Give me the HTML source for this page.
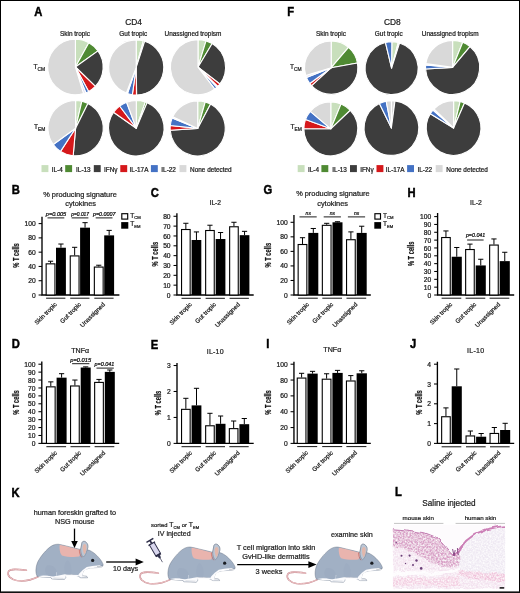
<!DOCTYPE html>
<html lang="en"><head><meta charset="utf-8"><title>Figure</title>
<style>html,body{margin:0;padding:0;background:#fff}body{width:520px;height:593px;overflow:hidden}svg{display:block;will-change:transform}text{stroke:#222;stroke-width:0.22px;font-family:'Liberation Sans', Arial, Helvetica, sans-serif}</style>
</head><body>
<svg width="520" height="593" viewBox="0 0 520 593">
<rect x="0" y="0" width="520" height="593" fill="#fff"/>
<text transform="translate(34.30,16.30) scale(0.92,1)" font-size="12.2" font-weight="bold" fill="#000" style="stroke:#000;stroke-width:0.45px">A</text>
<text transform="translate(287.30,16.30) scale(0.92,1)" font-size="12.2" font-weight="bold" fill="#000" style="stroke:#000;stroke-width:0.45px">F</text>
<text transform="translate(11.80,194.20) scale(0.92,1)" font-size="12.2" font-weight="bold" fill="#000" style="stroke:#000;stroke-width:0.45px">B</text>
<text transform="translate(150.80,196.60) scale(0.92,1)" font-size="12.2" font-weight="bold" fill="#000" style="stroke:#000;stroke-width:0.45px">C</text>
<text transform="translate(263.60,193.60) scale(0.92,1)" font-size="12.2" font-weight="bold" fill="#000" style="stroke:#000;stroke-width:0.45px">G</text>
<text transform="translate(407.40,197.30) scale(0.92,1)" font-size="12.2" font-weight="bold" fill="#000" style="stroke:#000;stroke-width:0.45px">H</text>
<text transform="translate(11.80,348.00) scale(0.92,1)" font-size="12.2" font-weight="bold" fill="#000" style="stroke:#000;stroke-width:0.45px">D</text>
<text transform="translate(150.80,349.00) scale(0.92,1)" font-size="12.2" font-weight="bold" fill="#000" style="stroke:#000;stroke-width:0.45px">E</text>
<text transform="translate(266.20,347.80) scale(0.92,1)" font-size="12.2" font-weight="bold" fill="#000" style="stroke:#000;stroke-width:0.45px">I</text>
<text transform="translate(410.00,348.30) scale(0.92,1)" font-size="12.2" font-weight="bold" fill="#000" style="stroke:#000;stroke-width:0.45px">J</text>
<text transform="translate(11.50,496.50) scale(0.92,1)" font-size="12.2" font-weight="bold" fill="#000" style="stroke:#000;stroke-width:0.45px">K</text>
<text transform="translate(395.00,496.00) scale(0.92,1)" font-size="12.2" font-weight="bold" fill="#000" style="stroke:#000;stroke-width:0.45px">L</text>
<text x="133.60" y="25.40" font-size="8.4" text-anchor="middle" font-weight="normal" font-style="normal" fill="#1a1a1a" >CD4</text>
<text x="75.00" y="35.50" font-size="6.45" text-anchor="middle" font-weight="normal" font-style="normal" fill="#1a1a1a" >Skin tropic</text>
<text x="133.30" y="35.50" font-size="6.45" text-anchor="middle" font-weight="normal" font-style="normal" fill="#1a1a1a" >Gut tropic</text>
<text x="193.00" y="35.50" font-size="6.45" text-anchor="middle" font-weight="normal" font-style="normal" fill="#1a1a1a" >Unassigned tropism</text>
<text x="33.50" y="68.60" font-size="6.6" text-anchor="start" fill="#1a1a1a">T<tspan font-size="4.9" dy="1.9">CM</tspan></text>
<text x="33.90" y="128.90" font-size="6.6" text-anchor="start" fill="#1a1a1a">T<tspan font-size="4.9" dy="1.9">EM</tspan></text>
<path d="M75.40,67.00L75.40,39.25A27.75,27.75 0 0 1 88.85,42.73Z" fill="#c8dfbc" stroke="#fff" stroke-width="1.1" stroke-linejoin="round"/>
<path d="M75.40,67.00L88.85,42.73A27.75,27.75 0 0 1 97.99,50.89Z" fill="#4f8a33" stroke="#fff" stroke-width="1.1" stroke-linejoin="round"/>
<path d="M75.40,67.00L97.99,50.89A27.75,27.75 0 0 1 95.36,86.28Z" fill="#3d3d3d" stroke="#fff" stroke-width="1.1" stroke-linejoin="round"/>
<path d="M75.40,67.00L95.36,86.28A27.75,27.75 0 0 1 88.64,91.39Z" fill="#d5181b" stroke="#fff" stroke-width="1.1" stroke-linejoin="round"/>
<path d="M75.40,67.00L88.64,91.39A27.75,27.75 0 0 1 85.80,92.73Z" fill="#4472c4" stroke="#fff" stroke-width="1.1" stroke-linejoin="round"/>
<path d="M75.40,67.00L85.80,92.73A27.75,27.75 0 0 1 83.51,93.54Z" fill="#e4e2f2" stroke="#fff" stroke-width="1.1" stroke-linejoin="round"/>
<path d="M75.40,67.00L83.51,93.54A27.75,27.75 0 1 1 75.40,39.25Z" fill="#d9d9d9" stroke="#fff" stroke-width="1.1" stroke-linejoin="round"/>
<path d="M136.20,67.40L136.20,39.85A27.55,27.55 0 0 1 143.33,40.79Z" fill="#c8dfbc" stroke="#fff" stroke-width="1.1" stroke-linejoin="round"/>
<path d="M136.20,67.40L143.33,40.79A27.55,27.55 0 0 1 144.71,41.20Z" fill="#4f8a33" stroke="#fff" stroke-width="1.1" stroke-linejoin="round"/>
<path d="M136.20,67.40L144.71,41.20A27.55,27.55 0 0 1 136.68,94.95Z" fill="#3d3d3d" stroke="#fff" stroke-width="1.1" stroke-linejoin="round"/>
<path d="M136.20,67.40L136.44,94.95A27.55,27.55 0 0 1 132.37,94.68Z" fill="#d5181b" stroke="#fff" stroke-width="1.1" stroke-linejoin="round"/>
<path d="M136.20,67.40L132.37,94.68A27.55,27.55 0 0 1 127.46,93.53Z" fill="#4472c4" stroke="#fff" stroke-width="1.1" stroke-linejoin="round"/>
<path d="M136.20,67.40L127.46,93.53A27.55,27.55 0 0 1 126.33,93.12Z" fill="#e4e2f2" stroke="#fff" stroke-width="1.1" stroke-linejoin="round"/>
<path d="M136.20,67.40L126.33,93.12A27.55,27.55 0 0 1 136.20,39.85Z" fill="#d9d9d9" stroke="#fff" stroke-width="1.1" stroke-linejoin="round"/>
<path d="M198.00,67.20L198.00,39.65A27.55,27.55 0 0 1 206.05,40.85Z" fill="#c8dfbc" stroke="#fff" stroke-width="1.1" stroke-linejoin="round"/>
<path d="M198.00,67.20L206.05,40.85A27.55,27.55 0 0 1 212.19,43.59Z" fill="#4f8a33" stroke="#fff" stroke-width="1.1" stroke-linejoin="round"/>
<path d="M198.00,67.20L212.19,43.59A27.55,27.55 0 0 1 219.86,83.97Z" fill="#3d3d3d" stroke="#fff" stroke-width="1.1" stroke-linejoin="round"/>
<path d="M198.00,67.20L219.86,83.97A27.55,27.55 0 0 1 217.65,86.51Z" fill="#d5181b" stroke="#fff" stroke-width="1.1" stroke-linejoin="round"/>
<path d="M198.00,67.20L217.65,86.51A27.55,27.55 0 0 1 216.79,87.35Z" fill="#e4e2f2" stroke="#fff" stroke-width="1.1" stroke-linejoin="round"/>
<path d="M198.00,67.20L216.79,87.35A27.55,27.55 0 0 1 214.77,89.06Z" fill="#4472c4" stroke="#fff" stroke-width="1.1" stroke-linejoin="round"/>
<path d="M198.00,67.20L214.77,89.06A27.55,27.55 0 1 1 198.00,39.65Z" fill="#d9d9d9" stroke="#fff" stroke-width="1.1" stroke-linejoin="round"/>
<path d="M75.60,128.20L75.60,100.55A27.650000000000002,27.650000000000002 0 0 1 81.82,101.26Z" fill="#c8dfbc" stroke="#fff" stroke-width="1.1" stroke-linejoin="round"/>
<path d="M75.60,128.20L81.82,101.26A27.650000000000002,27.650000000000002 0 0 1 87.94,103.46Z" fill="#4f8a33" stroke="#fff" stroke-width="1.1" stroke-linejoin="round"/>
<path d="M75.60,128.20L87.94,103.46A27.650000000000002,27.650000000000002 0 0 1 73.19,155.74Z" fill="#3d3d3d" stroke="#fff" stroke-width="1.1" stroke-linejoin="round"/>
<path d="M75.60,128.20L73.19,155.74A27.650000000000002,27.650000000000002 0 0 1 60.54,151.39Z" fill="#d5181b" stroke="#fff" stroke-width="1.1" stroke-linejoin="round"/>
<path d="M75.60,128.20L60.54,151.39A27.650000000000002,27.650000000000002 0 0 1 53.23,144.45Z" fill="#4472c4" stroke="#fff" stroke-width="1.1" stroke-linejoin="round"/>
<path d="M75.60,128.20L53.23,144.45A27.650000000000002,27.650000000000002 0 0 1 75.60,100.55Z" fill="#d9d9d9" stroke="#fff" stroke-width="1.1" stroke-linejoin="round"/>
<path d="M136.30,128.20L136.30,100.45A27.75,27.75 0 0 1 145.33,101.96Z" fill="#c8dfbc" stroke="#fff" stroke-width="1.1" stroke-linejoin="round"/>
<path d="M136.30,128.20L145.33,101.96A27.75,27.75 0 0 1 147.14,102.66Z" fill="#4f8a33" stroke="#fff" stroke-width="1.1" stroke-linejoin="round"/>
<path d="M136.30,128.20L147.14,102.66A27.75,27.75 0 1 1 113.57,112.28Z" fill="#3d3d3d" stroke="#fff" stroke-width="1.1" stroke-linejoin="round"/>
<path d="M136.30,128.20L113.57,112.28A27.75,27.75 0 0 1 119.60,106.04Z" fill="#d5181b" stroke="#fff" stroke-width="1.1" stroke-linejoin="round"/>
<path d="M136.30,128.20L119.60,106.04A27.75,27.75 0 0 1 126.58,102.21Z" fill="#4472c4" stroke="#fff" stroke-width="1.1" stroke-linejoin="round"/>
<path d="M136.30,128.20L126.58,102.21A27.75,27.75 0 0 1 136.30,100.45Z" fill="#d9d9d9" stroke="#fff" stroke-width="1.1" stroke-linejoin="round"/>
<path d="M197.70,128.40L197.70,100.85A27.55,27.55 0 0 1 205.29,101.92Z" fill="#c8dfbc" stroke="#fff" stroke-width="1.1" stroke-linejoin="round"/>
<path d="M197.70,128.40L205.29,101.92A27.55,27.55 0 0 1 210.63,104.07Z" fill="#4f8a33" stroke="#fff" stroke-width="1.1" stroke-linejoin="round"/>
<path d="M197.70,128.40L210.63,104.07A27.55,27.55 0 1 1 170.22,130.32Z" fill="#3d3d3d" stroke="#fff" stroke-width="1.1" stroke-linejoin="round"/>
<path d="M197.70,128.40L170.22,130.32A27.55,27.55 0 0 1 170.30,125.52Z" fill="#d5181b" stroke="#fff" stroke-width="1.1" stroke-linejoin="round"/>
<path d="M197.70,128.40L170.30,125.52A27.55,27.55 0 0 1 172.16,118.08Z" fill="#4472c4" stroke="#fff" stroke-width="1.1" stroke-linejoin="round"/>
<path d="M197.70,128.40L172.16,118.08A27.55,27.55 0 0 1 172.73,116.76Z" fill="#e4e2f2" stroke="#fff" stroke-width="1.1" stroke-linejoin="round"/>
<path d="M197.70,128.40L172.73,116.76A27.55,27.55 0 0 1 197.70,100.85Z" fill="#d9d9d9" stroke="#fff" stroke-width="1.1" stroke-linejoin="round"/>
<text x="392.30" y="25.40" font-size="8.4" text-anchor="middle" font-weight="normal" font-style="normal" fill="#1a1a1a" >CD8</text>
<text x="331.00" y="35.50" font-size="6.45" text-anchor="middle" font-weight="normal" font-style="normal" fill="#1a1a1a" >Skin tropic</text>
<text x="388.80" y="35.50" font-size="6.45" text-anchor="middle" font-weight="normal" font-style="normal" fill="#1a1a1a" >Gut tropic</text>
<text x="450.20" y="35.50" font-size="6.45" text-anchor="middle" font-weight="normal" font-style="normal" fill="#1a1a1a" >Unassigned tropism</text>
<text x="290.00" y="68.60" font-size="6.6" text-anchor="start" fill="#1a1a1a">T<tspan font-size="4.9" dy="1.9">CM</tspan></text>
<text x="290.40" y="129.40" font-size="6.6" text-anchor="start" fill="#1a1a1a">T<tspan font-size="4.9" dy="1.9">EM</tspan></text>
<path d="M331.20,67.70L331.20,41.05A26.650000000000002,26.650000000000002 0 0 1 348.51,47.44Z" fill="#c8dfbc" stroke="#fff" stroke-width="1.1" stroke-linejoin="round"/>
<path d="M331.20,67.70L348.51,47.44A26.650000000000002,26.650000000000002 0 0 1 357.45,63.07Z" fill="#4f8a33" stroke="#fff" stroke-width="1.1" stroke-linejoin="round"/>
<path d="M331.20,67.70L357.45,63.07A26.650000000000002,26.650000000000002 0 0 1 311.55,85.70Z" fill="#3d3d3d" stroke="#fff" stroke-width="1.1" stroke-linejoin="round"/>
<path d="M331.20,67.70L311.55,85.70A26.650000000000002,26.650000000000002 0 0 1 309.78,83.55Z" fill="#d5181b" stroke="#fff" stroke-width="1.1" stroke-linejoin="round"/>
<path d="M331.20,67.70L309.78,83.55A26.650000000000002,26.650000000000002 0 0 1 306.40,77.47Z" fill="#4472c4" stroke="#fff" stroke-width="1.1" stroke-linejoin="round"/>
<path d="M331.20,67.70L306.40,77.47A26.650000000000002,26.650000000000002 0 0 1 305.71,75.49Z" fill="#e4e2f2" stroke="#fff" stroke-width="1.1" stroke-linejoin="round"/>
<path d="M331.20,67.70L305.71,75.49A26.650000000000002,26.650000000000002 0 0 1 331.20,41.05Z" fill="#d9d9d9" stroke="#fff" stroke-width="1.1" stroke-linejoin="round"/>
<path d="M391.60,68.20L391.83,41.75A26.450000000000003,26.450000000000003 0 0 1 398.22,42.59Z" fill="#c8dfbc" stroke="#fff" stroke-width="1.1" stroke-linejoin="round"/>
<path d="M391.60,68.20L398.22,42.59A26.450000000000003,26.450000000000003 0 0 1 399.55,42.97Z" fill="#dcebd4" stroke="#fff" stroke-width="1.1" stroke-linejoin="round"/>
<path d="M391.60,68.20L399.55,42.97A26.450000000000003,26.450000000000003 0 1 1 385.43,42.48Z" fill="#3d3d3d" stroke="#fff" stroke-width="1.1" stroke-linejoin="round"/>
<path d="M391.60,68.20L385.43,42.48A26.450000000000003,26.450000000000003 0 0 1 391.83,41.75Z" fill="#4472c4" stroke="#fff" stroke-width="1.1" stroke-linejoin="round"/>
<path d="M452.60,67.40L452.60,40.35A27.05,27.05 0 0 1 462.73,42.32Z" fill="#c8dfbc" stroke="#fff" stroke-width="1.1" stroke-linejoin="round"/>
<path d="M452.60,67.40L462.73,42.32A27.05,27.05 0 0 1 469.99,46.68Z" fill="#4f8a33" stroke="#fff" stroke-width="1.1" stroke-linejoin="round"/>
<path d="M452.60,67.40L469.99,46.68A27.05,27.05 0 1 1 425.60,69.05Z" fill="#3d3d3d" stroke="#fff" stroke-width="1.1" stroke-linejoin="round"/>
<path d="M452.60,67.40L425.60,69.05A27.05,27.05 0 0 1 425.65,65.04Z" fill="#4472c4" stroke="#fff" stroke-width="1.1" stroke-linejoin="round"/>
<path d="M452.60,67.40L425.65,65.04A27.05,27.05 0 0 1 425.81,63.64Z" fill="#e4e2f2" stroke="#fff" stroke-width="1.1" stroke-linejoin="round"/>
<path d="M452.60,67.40L425.81,63.64A27.05,27.05 0 0 1 452.60,40.35Z" fill="#d9d9d9" stroke="#fff" stroke-width="1.1" stroke-linejoin="round"/>
<path d="M330.80,128.80L330.80,101.85A26.950000000000003,26.950000000000003 0 0 1 341.11,103.90Z" fill="#c8dfbc" stroke="#fff" stroke-width="1.1" stroke-linejoin="round"/>
<path d="M330.80,128.80L341.11,103.90A26.950000000000003,26.950000000000003 0 0 1 350.35,110.25Z" fill="#4f8a33" stroke="#fff" stroke-width="1.1" stroke-linejoin="round"/>
<path d="M330.80,128.80L350.35,110.25A26.950000000000003,26.950000000000003 0 1 1 303.85,128.80Z" fill="#3d3d3d" stroke="#fff" stroke-width="1.1" stroke-linejoin="round"/>
<path d="M330.80,128.80L303.85,128.80A26.950000000000003,26.950000000000003 0 0 1 305.48,119.58Z" fill="#d5181b" stroke="#fff" stroke-width="1.1" stroke-linejoin="round"/>
<path d="M330.80,128.80L305.48,119.58A26.950000000000003,26.950000000000003 0 0 1 310.31,111.30Z" fill="#4472c4" stroke="#fff" stroke-width="1.1" stroke-linejoin="round"/>
<path d="M330.80,128.80L310.31,111.30A26.950000000000003,26.950000000000003 0 0 1 330.80,101.85Z" fill="#d9d9d9" stroke="#fff" stroke-width="1.1" stroke-linejoin="round"/>
<path d="M391.40,128.00L391.40,100.65A27.35,27.35 0 0 1 394.97,100.88Z" fill="#d9d9d9" stroke="#fff" stroke-width="1.1" stroke-linejoin="round"/>
<path d="M391.40,128.00L394.97,100.88A27.35,27.35 0 1 1 379.41,103.42Z" fill="#3d3d3d" stroke="#fff" stroke-width="1.1" stroke-linejoin="round"/>
<path d="M391.40,128.00L379.41,103.42A27.35,27.35 0 0 1 386.18,101.15Z" fill="#4472c4" stroke="#fff" stroke-width="1.1" stroke-linejoin="round"/>
<path d="M391.40,128.00L386.18,101.15A27.35,27.35 0 0 1 391.40,100.65Z" fill="#d9d9d9" stroke="#fff" stroke-width="1.1" stroke-linejoin="round"/>
<path d="M453.60,128.00L453.60,100.65A27.35,27.35 0 0 1 460.22,101.46Z" fill="#c8dfbc" stroke="#fff" stroke-width="1.1" stroke-linejoin="round"/>
<path d="M453.60,128.00L460.22,101.46A27.35,27.35 0 0 1 464.51,102.92Z" fill="#4f8a33" stroke="#fff" stroke-width="1.1" stroke-linejoin="round"/>
<path d="M453.60,128.00L464.51,102.92A27.35,27.35 0 1 1 430.28,113.71Z" fill="#3d3d3d" stroke="#fff" stroke-width="1.1" stroke-linejoin="round"/>
<path d="M453.60,128.00L430.28,113.71A27.35,27.35 0 0 1 432.96,110.06Z" fill="#4472c4" stroke="#fff" stroke-width="1.1" stroke-linejoin="round"/>
<path d="M453.60,128.00L432.96,110.06A27.35,27.35 0 0 1 433.93,109.00Z" fill="#e4e2f2" stroke="#fff" stroke-width="1.1" stroke-linejoin="round"/>
<path d="M453.60,128.00L433.93,109.00A27.35,27.35 0 0 1 453.60,100.65Z" fill="#d9d9d9" stroke="#fff" stroke-width="1.1" stroke-linejoin="round"/>
<rect x="41.50" y="165.10" width="6.9" height="7.0" fill="#c8dfbc"/>
<text x="51.80" y="171.55" font-size="6.4" text-anchor="start" font-weight="normal" font-style="normal" fill="#111" >IL-4</text>
<rect x="65.20" y="165.10" width="6.9" height="7.0" fill="#4f8a33"/>
<text x="76.10" y="171.55" font-size="6.4" text-anchor="start" font-weight="normal" font-style="normal" fill="#111" >IL-13</text>
<rect x="93.80" y="165.10" width="6.9" height="7.0" fill="#3d3d3d"/>
<text x="104.00" y="171.55" font-size="6.4" text-anchor="start" font-weight="normal" font-style="normal" fill="#111" >IFNγ</text>
<rect x="120.30" y="165.10" width="6.9" height="7.0" fill="#d5181b"/>
<text x="129.60" y="171.55" font-size="6.4" text-anchor="start" font-weight="normal" font-style="normal" fill="#111" >IL-17A</text>
<rect x="150.90" y="165.10" width="6.9" height="7.0" fill="#4472c4"/>
<text x="161.30" y="171.55" font-size="6.4" text-anchor="start" font-weight="normal" font-style="normal" fill="#111" >IL-22</text>
<rect x="179.50" y="165.10" width="6.9" height="7.0" fill="#d9d9d9"/>
<text x="190.10" y="171.55" font-size="6.4" text-anchor="start" font-weight="normal" font-style="normal" fill="#111" >None detected</text>
<rect x="297.70" y="165.10" width="6.9" height="7.0" fill="#c8dfbc"/>
<text x="308.00" y="171.55" font-size="6.4" text-anchor="start" font-weight="normal" font-style="normal" fill="#111" >IL-4</text>
<rect x="321.40" y="165.10" width="6.9" height="7.0" fill="#4f8a33"/>
<text x="332.30" y="171.55" font-size="6.4" text-anchor="start" font-weight="normal" font-style="normal" fill="#111" >IL-13</text>
<rect x="350.00" y="165.10" width="6.9" height="7.0" fill="#3d3d3d"/>
<text x="360.20" y="171.55" font-size="6.4" text-anchor="start" font-weight="normal" font-style="normal" fill="#111" >IFNγ</text>
<rect x="376.50" y="165.10" width="6.9" height="7.0" fill="#d5181b"/>
<text x="385.80" y="171.55" font-size="6.4" text-anchor="start" font-weight="normal" font-style="normal" fill="#111" >IL-17A</text>
<rect x="407.10" y="165.10" width="6.9" height="7.0" fill="#4472c4"/>
<text x="417.50" y="171.55" font-size="6.4" text-anchor="start" font-weight="normal" font-style="normal" fill="#111" >IL-22</text>
<rect x="435.70" y="165.10" width="6.9" height="7.0" fill="#d9d9d9"/>
<text x="446.30" y="171.55" font-size="6.4" text-anchor="start" font-weight="normal" font-style="normal" fill="#111" >None detected</text>
<path d="M42.00,216.80V295.00H119.40" fill="none" stroke="#000" stroke-width="1.35" stroke-linejoin="miter"/>
<path d="M38.60,295.00H42.00" stroke="#000" stroke-width="1.05"/>
<text transform="translate(35.70,297.55) scale(1.05,1)" font-size="6.4" text-anchor="end" fill="#111">0</text>
<path d="M38.60,280.72H42.00" stroke="#000" stroke-width="1.05"/>
<text transform="translate(35.70,283.27) scale(1.05,1)" font-size="6.4" text-anchor="end" fill="#111">20</text>
<path d="M38.60,266.44H42.00" stroke="#000" stroke-width="1.05"/>
<text transform="translate(35.70,268.99) scale(1.05,1)" font-size="6.4" text-anchor="end" fill="#111">40</text>
<path d="M38.60,252.16H42.00" stroke="#000" stroke-width="1.05"/>
<text transform="translate(35.70,254.71) scale(1.05,1)" font-size="6.4" text-anchor="end" fill="#111">60</text>
<path d="M38.60,237.88H42.00" stroke="#000" stroke-width="1.05"/>
<text transform="translate(35.70,240.43) scale(1.05,1)" font-size="6.4" text-anchor="end" fill="#111">80</text>
<path d="M38.60,223.60H42.00" stroke="#000" stroke-width="1.05"/>
<text transform="translate(35.70,226.15) scale(1.05,1)" font-size="6.4" text-anchor="end" fill="#111">100</text>
<path d="M50.55,263.30V261.23M47.95,261.23H53.15" stroke="#000" stroke-width="1" fill="none"/>
<rect x="46.15" y="263.85" width="8.80" height="31.15" fill="#fff" stroke="#000" stroke-width="1.1"/>
<path d="M60.95,247.73V244.02M58.35,244.02H63.55" stroke="#000" stroke-width="1" fill="none"/>
<rect x="56.00" y="247.73" width="9.90" height="47.27" fill="#000"/>
<path d="M74.65,255.37V247.30M72.05,247.30H77.25" stroke="#000" stroke-width="1" fill="none"/>
<rect x="70.25" y="255.92" width="8.80" height="39.08" fill="#fff" stroke="#000" stroke-width="1.1"/>
<path d="M85.05,227.67V222.67M82.45,222.67H87.65" stroke="#000" stroke-width="1" fill="none"/>
<rect x="80.10" y="227.67" width="9.90" height="67.33" fill="#000"/>
<path d="M98.75,266.51V265.23M96.15,265.23H101.35" stroke="#000" stroke-width="1" fill="none"/>
<rect x="94.35" y="267.06" width="8.80" height="27.94" fill="#fff" stroke="#000" stroke-width="1.1"/>
<path d="M109.15,235.38V230.38M106.55,230.38H111.75" stroke="#000" stroke-width="1" fill="none"/>
<rect x="104.20" y="235.38" width="9.90" height="59.62" fill="#000"/>
<path d="M46.10,298.20H65.40" stroke="#111" stroke-width="1"/>
<text transform="translate(57.25,304.80) rotate(-45)" font-size="6.15" text-anchor="end" fill="#1a1a1a">Skin tropic</text>
<path d="M70.20,298.20H89.50" stroke="#111" stroke-width="1"/>
<text transform="translate(81.35,304.80) rotate(-45)" font-size="6.15" text-anchor="end" fill="#1a1a1a">Gut tropic</text>
<path d="M94.30,298.20H113.60" stroke="#111" stroke-width="1"/>
<text transform="translate(105.45,304.80) rotate(-45)" font-size="6.15" text-anchor="end" fill="#1a1a1a">Unassigned</text>
<text transform="translate(18.90,255.50) rotate(-90) scale(0.655,1)" font-size="8.8" font-weight="bold" text-anchor="middle" fill="#111">% T cells</text>
<text x="80.00" y="197.10" font-size="7.4" text-anchor="middle" font-weight="normal" font-style="normal" fill="#1a1a1a" >% producing signature</text>
<text x="80.60" y="206.00" font-size="7.4" text-anchor="middle" font-weight="normal" font-style="normal" fill="#1a1a1a" >cytokines</text>
<path d="M47.50,217.90H64.30" stroke="#111" stroke-width="0.95"/>
<text x="56.05" y="216.00" font-size="5.0" text-anchor="middle" font-weight="normal" font-style="italic" fill="#000" textLength="20.4" lengthAdjust="spacingAndGlyphs">p=0.005</text>
<path d="M71.60,217.90H88.40" stroke="#111" stroke-width="0.95"/>
<text x="80.15" y="216.00" font-size="5.0" text-anchor="middle" font-weight="normal" font-style="italic" fill="#000" textLength="17.8" lengthAdjust="spacingAndGlyphs">p=0.017</text>
<path d="M95.70,217.90H112.50" stroke="#111" stroke-width="0.95"/>
<text x="104.25" y="216.00" font-size="5.0" text-anchor="middle" font-weight="normal" font-style="italic" fill="#000" textLength="22.6" lengthAdjust="spacingAndGlyphs">p=0.0007</text>
<rect x="121.8" y="213.7" width="5.9" height="5.4" fill="#fff" stroke="#000" stroke-width="1.15"/>
<rect x="121.2" y="222.1" width="7.1" height="6.6" fill="#000"/>
<text x="130.20" y="217.50" font-size="6.6" text-anchor="start" fill="#1a1a1a">T<tspan font-size="4.2" dy="1.9">CM</tspan></text>
<text x="130.20" y="226.20" font-size="6.6" text-anchor="start" fill="#1a1a1a">T<tspan font-size="4.2" dy="1.9">EM</tspan></text>
<path d="M293.95,215.00V295.00H370.80" fill="none" stroke="#000" stroke-width="1.35" stroke-linejoin="miter"/>
<path d="M290.55,295.00H293.95" stroke="#000" stroke-width="1.05"/>
<text transform="translate(287.65,297.55) scale(1.05,1)" font-size="6.4" text-anchor="end" fill="#111">0</text>
<path d="M290.55,280.46H293.95" stroke="#000" stroke-width="1.05"/>
<text transform="translate(287.65,283.01) scale(1.05,1)" font-size="6.4" text-anchor="end" fill="#111">20</text>
<path d="M290.55,265.92H293.95" stroke="#000" stroke-width="1.05"/>
<text transform="translate(287.65,268.47) scale(1.05,1)" font-size="6.4" text-anchor="end" fill="#111">40</text>
<path d="M290.55,251.38H293.95" stroke="#000" stroke-width="1.05"/>
<text transform="translate(287.65,253.93) scale(1.05,1)" font-size="6.4" text-anchor="end" fill="#111">60</text>
<path d="M290.55,236.84H293.95" stroke="#000" stroke-width="1.05"/>
<text transform="translate(287.65,239.39) scale(1.05,1)" font-size="6.4" text-anchor="end" fill="#111">80</text>
<path d="M290.55,222.30H293.95" stroke="#000" stroke-width="1.05"/>
<text transform="translate(287.65,224.85) scale(1.05,1)" font-size="6.4" text-anchor="end" fill="#111">100</text>
<path d="M302.50,243.96V237.71M299.90,237.71H305.10" stroke="#000" stroke-width="1" fill="none"/>
<rect x="298.15" y="244.51" width="8.70" height="50.49" fill="#fff" stroke="#000" stroke-width="1.1"/>
<path d="M313.30,232.91V228.48M310.70,228.48H315.90" stroke="#000" stroke-width="1" fill="none"/>
<rect x="308.30" y="232.91" width="10.00" height="62.09" fill="#000"/>
<path d="M326.70,224.77V223.32M324.10,223.32H329.30" stroke="#000" stroke-width="1" fill="none"/>
<rect x="322.35" y="225.32" width="8.70" height="69.68" fill="#fff" stroke="#000" stroke-width="1.1"/>
<path d="M337.50,222.30V221.72M334.90,221.72H340.10" stroke="#000" stroke-width="1" fill="none"/>
<rect x="332.50" y="222.30" width="10.00" height="72.70" fill="#000"/>
<path d="M350.90,239.17V231.90M348.30,231.90H353.50" stroke="#000" stroke-width="1" fill="none"/>
<rect x="346.55" y="239.72" width="8.70" height="55.28" fill="#fff" stroke="#000" stroke-width="1.1"/>
<path d="M361.70,232.91V226.23M359.10,226.23H364.30" stroke="#000" stroke-width="1" fill="none"/>
<rect x="356.70" y="232.91" width="10.00" height="62.09" fill="#000"/>
<path d="M298.10,298.20H317.80" stroke="#111" stroke-width="1"/>
<text transform="translate(309.45,304.80) rotate(-45)" font-size="6.15" text-anchor="end" fill="#1a1a1a">Skin tropic</text>
<path d="M322.30,298.20H342.00" stroke="#111" stroke-width="1"/>
<text transform="translate(333.65,304.80) rotate(-45)" font-size="6.15" text-anchor="end" fill="#1a1a1a">Gut tropic</text>
<path d="M346.50,298.20H366.20" stroke="#111" stroke-width="1"/>
<text transform="translate(357.85,304.80) rotate(-45)" font-size="6.15" text-anchor="end" fill="#1a1a1a">Unassigned</text>
<text transform="translate(270.90,255.20) rotate(-90) scale(0.655,1)" font-size="8.8" font-weight="bold" text-anchor="middle" fill="#111">% T cells</text>
<text x="332.90" y="196.00" font-size="7.4" text-anchor="middle" font-weight="normal" font-style="normal" fill="#1a1a1a" >% producing signature</text>
<text x="332.60" y="205.50" font-size="7.4" text-anchor="middle" font-weight="normal" font-style="normal" fill="#1a1a1a" >cytokines</text>
<path d="M299.50,216.90H316.70" stroke="#111" stroke-width="0.95"/>
<text x="308.25" y="214.60" font-size="5.0" text-anchor="middle" font-weight="normal" font-style="italic" fill="#000" >ns</text>
<path d="M323.70,216.90H340.90" stroke="#111" stroke-width="0.95"/>
<text x="332.45" y="214.60" font-size="5.0" text-anchor="middle" font-weight="normal" font-style="italic" fill="#000" >ns</text>
<path d="M347.90,216.90H365.10" stroke="#111" stroke-width="0.95"/>
<text x="356.65" y="214.60" font-size="5.0" text-anchor="middle" font-weight="normal" font-style="italic" fill="#000" >ns</text>
<rect x="374.9" y="213.7" width="5.6" height="5.4" fill="#fff" stroke="#000" stroke-width="1.15"/>
<rect x="374.3" y="222.1" width="6.8" height="6.6" fill="#000"/>
<text x="383.00" y="217.50" font-size="6.6" text-anchor="start" fill="#1a1a1a">T<tspan font-size="4.2" dy="1.9">CM</tspan></text>
<text x="383.00" y="226.20" font-size="6.6" text-anchor="start" fill="#1a1a1a">T<tspan font-size="4.2" dy="1.9">EM</tspan></text>
<path d="M176.90,213.20V295.00H253.70" fill="none" stroke="#000" stroke-width="1.35" stroke-linejoin="miter"/>
<path d="M173.50,295.00H176.90" stroke="#000" stroke-width="1.05"/>
<text transform="translate(170.60,297.55) scale(1.05,1)" font-size="6.4" text-anchor="end" fill="#111">0</text>
<path d="M173.50,285.16H176.90" stroke="#000" stroke-width="1.05"/>
<text transform="translate(170.60,287.71) scale(1.05,1)" font-size="6.4" text-anchor="end" fill="#111">10</text>
<path d="M173.50,275.32H176.90" stroke="#000" stroke-width="1.05"/>
<text transform="translate(170.60,277.87) scale(1.05,1)" font-size="6.4" text-anchor="end" fill="#111">20</text>
<path d="M173.50,265.48H176.90" stroke="#000" stroke-width="1.05"/>
<text transform="translate(170.60,268.03) scale(1.05,1)" font-size="6.4" text-anchor="end" fill="#111">30</text>
<path d="M173.50,255.64H176.90" stroke="#000" stroke-width="1.05"/>
<text transform="translate(170.60,258.19) scale(1.05,1)" font-size="6.4" text-anchor="end" fill="#111">40</text>
<path d="M173.50,245.80H176.90" stroke="#000" stroke-width="1.05"/>
<text transform="translate(170.60,248.35) scale(1.05,1)" font-size="6.4" text-anchor="end" fill="#111">50</text>
<path d="M173.50,235.96H176.90" stroke="#000" stroke-width="1.05"/>
<text transform="translate(170.60,238.51) scale(1.05,1)" font-size="6.4" text-anchor="end" fill="#111">60</text>
<path d="M173.50,226.12H176.90" stroke="#000" stroke-width="1.05"/>
<text transform="translate(170.60,228.67) scale(1.05,1)" font-size="6.4" text-anchor="end" fill="#111">70</text>
<path d="M173.50,216.28H176.90" stroke="#000" stroke-width="1.05"/>
<text transform="translate(170.60,218.83) scale(1.05,1)" font-size="6.4" text-anchor="end" fill="#111">80</text>
<path d="M185.85,228.97V223.27M183.25,223.27H188.45" stroke="#000" stroke-width="1" fill="none"/>
<rect x="181.55" y="229.52" width="8.60" height="65.48" fill="#fff" stroke="#000" stroke-width="1.1"/>
<path d="M196.45,239.99V231.93M193.85,231.93H199.05" stroke="#000" stroke-width="1" fill="none"/>
<rect x="191.60" y="239.99" width="9.70" height="55.01" fill="#000"/>
<path d="M209.95,229.96V225.23M207.35,225.23H212.55" stroke="#000" stroke-width="1" fill="none"/>
<rect x="205.65" y="230.51" width="8.60" height="64.49" fill="#fff" stroke="#000" stroke-width="1.1"/>
<path d="M220.55,239.01V232.52M217.95,232.52H223.15" stroke="#000" stroke-width="1" fill="none"/>
<rect x="215.70" y="239.01" width="9.70" height="55.99" fill="#000"/>
<path d="M233.95,226.22V222.28M231.35,222.28H236.55" stroke="#000" stroke-width="1" fill="none"/>
<rect x="229.65" y="226.77" width="8.60" height="68.23" fill="#fff" stroke="#000" stroke-width="1.1"/>
<path d="M244.55,235.17V231.34M241.95,231.34H247.15" stroke="#000" stroke-width="1" fill="none"/>
<rect x="239.70" y="235.17" width="9.70" height="59.83" fill="#000"/>
<path d="M181.50,298.30H200.80" stroke="#111" stroke-width="1"/>
<text transform="translate(192.25,304.90) rotate(-45)" font-size="6.15" text-anchor="end" fill="#1a1a1a">Skin tropic</text>
<path d="M205.60,298.30H224.90" stroke="#111" stroke-width="1"/>
<text transform="translate(216.35,304.90) rotate(-45)" font-size="6.15" text-anchor="end" fill="#1a1a1a">Gut tropic</text>
<path d="M229.60,298.30H248.90" stroke="#111" stroke-width="1"/>
<text transform="translate(240.35,304.90) rotate(-45)" font-size="6.15" text-anchor="end" fill="#1a1a1a">Unassigned</text>
<text transform="translate(157.80,254.20) rotate(-90) scale(0.655,1)" font-size="8.8" font-weight="bold" text-anchor="middle" fill="#111">% T cells</text>
<text x="215.30" y="205.20" font-size="6.7" text-anchor="middle" font-weight="normal" font-style="normal" fill="#1a1a1a" >IL-2</text>
<path d="M437.60,213.10V295.00H514.20" fill="none" stroke="#000" stroke-width="1.35" stroke-linejoin="miter"/>
<path d="M434.20,295.00H437.60" stroke="#000" stroke-width="1.05"/>
<text transform="translate(431.30,297.55) scale(1.05,1)" font-size="6.4" text-anchor="end" fill="#111">0</text>
<path d="M434.20,287.16H437.60" stroke="#000" stroke-width="1.05"/>
<text transform="translate(431.30,289.71) scale(1.05,1)" font-size="6.4" text-anchor="end" fill="#111">10</text>
<path d="M434.20,279.32H437.60" stroke="#000" stroke-width="1.05"/>
<text transform="translate(431.30,281.87) scale(1.05,1)" font-size="6.4" text-anchor="end" fill="#111">20</text>
<path d="M434.20,271.48H437.60" stroke="#000" stroke-width="1.05"/>
<text transform="translate(431.30,274.03) scale(1.05,1)" font-size="6.4" text-anchor="end" fill="#111">30</text>
<path d="M434.20,263.64H437.60" stroke="#000" stroke-width="1.05"/>
<text transform="translate(431.30,266.19) scale(1.05,1)" font-size="6.4" text-anchor="end" fill="#111">40</text>
<path d="M434.20,255.80H437.60" stroke="#000" stroke-width="1.05"/>
<text transform="translate(431.30,258.35) scale(1.05,1)" font-size="6.4" text-anchor="end" fill="#111">50</text>
<path d="M434.20,247.96H437.60" stroke="#000" stroke-width="1.05"/>
<text transform="translate(431.30,250.51) scale(1.05,1)" font-size="6.4" text-anchor="end" fill="#111">60</text>
<path d="M434.20,240.12H437.60" stroke="#000" stroke-width="1.05"/>
<text transform="translate(431.30,242.67) scale(1.05,1)" font-size="6.4" text-anchor="end" fill="#111">70</text>
<path d="M434.20,232.28H437.60" stroke="#000" stroke-width="1.05"/>
<text transform="translate(431.30,234.83) scale(1.05,1)" font-size="6.4" text-anchor="end" fill="#111">80</text>
<path d="M434.20,224.44H437.60" stroke="#000" stroke-width="1.05"/>
<text transform="translate(431.30,226.99) scale(1.05,1)" font-size="6.4" text-anchor="end" fill="#111">90</text>
<path d="M434.20,216.60H437.60" stroke="#000" stroke-width="1.05"/>
<text transform="translate(431.30,219.15) scale(1.05,1)" font-size="6.4" text-anchor="end" fill="#111">100</text>
<path d="M445.95,236.98V230.95M443.35,230.95H448.55" stroke="#000" stroke-width="1" fill="none"/>
<rect x="441.65" y="237.53" width="8.60" height="57.47" fill="#fff" stroke="#000" stroke-width="1.1"/>
<path d="M456.75,256.74V247.49M454.15,247.49H459.35" stroke="#000" stroke-width="1" fill="none"/>
<rect x="451.70" y="256.74" width="10.10" height="38.26" fill="#000"/>
<path d="M469.95,248.98V244.12M467.35,244.12H472.55" stroke="#000" stroke-width="1" fill="none"/>
<rect x="465.65" y="249.53" width="8.60" height="45.47" fill="#fff" stroke="#000" stroke-width="1.1"/>
<path d="M480.75,265.44V259.25M478.15,259.25H483.35" stroke="#000" stroke-width="1" fill="none"/>
<rect x="475.70" y="265.44" width="10.10" height="29.56" fill="#000"/>
<path d="M493.95,244.51V238.94M491.35,238.94H496.55" stroke="#000" stroke-width="1" fill="none"/>
<rect x="489.65" y="245.06" width="8.60" height="49.94" fill="#fff" stroke="#000" stroke-width="1.1"/>
<path d="M504.75,261.13V252.27M502.15,252.27H507.35" stroke="#000" stroke-width="1" fill="none"/>
<rect x="499.70" y="261.13" width="10.10" height="33.87" fill="#000"/>
<path d="M441.60,298.20H461.30" stroke="#111" stroke-width="1"/>
<text transform="translate(452.55,304.80) rotate(-45)" font-size="6.15" text-anchor="end" fill="#1a1a1a">Skin tropic</text>
<path d="M465.60,298.20H485.30" stroke="#111" stroke-width="1"/>
<text transform="translate(476.55,304.80) rotate(-45)" font-size="6.15" text-anchor="end" fill="#1a1a1a">Gut tropic</text>
<path d="M489.60,298.20H509.30" stroke="#111" stroke-width="1"/>
<text transform="translate(500.55,304.80) rotate(-45)" font-size="6.15" text-anchor="end" fill="#1a1a1a">Unassigned</text>
<text transform="translate(414.40,253.80) rotate(-90) scale(0.655,1)" font-size="8.8" font-weight="bold" text-anchor="middle" fill="#111">% T cells</text>
<text x="475.90" y="205.40" font-size="6.8" text-anchor="middle" font-weight="normal" font-style="normal" fill="#1a1a1a" >IL-2</text>
<path d="M467.1,240.0H483.6" stroke="#111" stroke-width="0.95"/>
<text x="475.60" y="237.40" font-size="5.0" text-anchor="middle" font-weight="normal" font-style="italic" fill="#000" textLength="19.4" lengthAdjust="spacingAndGlyphs">p=0.041</text>
<path d="M41.80,361.60V443.40H119.20" fill="none" stroke="#000" stroke-width="1.35" stroke-linejoin="miter"/>
<path d="M38.40,443.40H41.80" stroke="#000" stroke-width="1.05"/>
<text transform="translate(35.50,445.95) scale(1.05,1)" font-size="6.4" text-anchor="end" fill="#111">0</text>
<path d="M38.40,435.48H41.80" stroke="#000" stroke-width="1.05"/>
<text transform="translate(35.50,438.03) scale(1.05,1)" font-size="6.4" text-anchor="end" fill="#111">10</text>
<path d="M38.40,427.56H41.80" stroke="#000" stroke-width="1.05"/>
<text transform="translate(35.50,430.11) scale(1.05,1)" font-size="6.4" text-anchor="end" fill="#111">20</text>
<path d="M38.40,419.64H41.80" stroke="#000" stroke-width="1.05"/>
<text transform="translate(35.50,422.19) scale(1.05,1)" font-size="6.4" text-anchor="end" fill="#111">30</text>
<path d="M38.40,411.72H41.80" stroke="#000" stroke-width="1.05"/>
<text transform="translate(35.50,414.27) scale(1.05,1)" font-size="6.4" text-anchor="end" fill="#111">40</text>
<path d="M38.40,403.80H41.80" stroke="#000" stroke-width="1.05"/>
<text transform="translate(35.50,406.35) scale(1.05,1)" font-size="6.4" text-anchor="end" fill="#111">50</text>
<path d="M38.40,395.88H41.80" stroke="#000" stroke-width="1.05"/>
<text transform="translate(35.50,398.43) scale(1.05,1)" font-size="6.4" text-anchor="end" fill="#111">60</text>
<path d="M38.40,387.96H41.80" stroke="#000" stroke-width="1.05"/>
<text transform="translate(35.50,390.51) scale(1.05,1)" font-size="6.4" text-anchor="end" fill="#111">70</text>
<path d="M38.40,380.04H41.80" stroke="#000" stroke-width="1.05"/>
<text transform="translate(35.50,382.59) scale(1.05,1)" font-size="6.4" text-anchor="end" fill="#111">80</text>
<path d="M38.40,372.12H41.80" stroke="#000" stroke-width="1.05"/>
<text transform="translate(35.50,374.67) scale(1.05,1)" font-size="6.4" text-anchor="end" fill="#111">90</text>
<path d="M38.40,364.20H41.80" stroke="#000" stroke-width="1.05"/>
<text transform="translate(35.50,366.75) scale(1.05,1)" font-size="6.4" text-anchor="end" fill="#111">100</text>
<path d="M50.80,386.30V381.86M48.20,381.86H53.40" stroke="#000" stroke-width="1" fill="none"/>
<rect x="46.45" y="386.85" width="8.70" height="56.55" fill="#fff" stroke="#000" stroke-width="1.1"/>
<path d="M61.60,377.66V373.70M59.00,373.70H64.20" stroke="#000" stroke-width="1" fill="none"/>
<rect x="56.60" y="377.66" width="10.00" height="65.74" fill="#000"/>
<path d="M74.90,385.43V380.04M72.30,380.04H77.50" stroke="#000" stroke-width="1" fill="none"/>
<rect x="70.55" y="385.98" width="8.70" height="57.42" fill="#fff" stroke="#000" stroke-width="1.1"/>
<path d="M85.70,367.53V366.89M83.10,366.89H88.30" stroke="#000" stroke-width="1" fill="none"/>
<rect x="80.70" y="367.53" width="10.00" height="75.87" fill="#000"/>
<path d="M99.00,381.86V379.41M96.40,379.41H101.60" stroke="#000" stroke-width="1" fill="none"/>
<rect x="94.65" y="382.41" width="8.70" height="60.99" fill="#fff" stroke="#000" stroke-width="1.1"/>
<path d="M109.80,371.88V369.98M107.20,369.98H112.40" stroke="#000" stroke-width="1" fill="none"/>
<rect x="104.80" y="371.88" width="10.00" height="71.52" fill="#000"/>
<path d="M46.40,446.70H66.10" stroke="#111" stroke-width="1"/>
<text transform="translate(57.35,453.30) rotate(-45)" font-size="6.15" text-anchor="end" fill="#1a1a1a">Skin tropic</text>
<path d="M70.50,446.70H90.20" stroke="#111" stroke-width="1"/>
<text transform="translate(81.45,453.30) rotate(-45)" font-size="6.15" text-anchor="end" fill="#1a1a1a">Gut tropic</text>
<path d="M94.60,446.70H114.30" stroke="#111" stroke-width="1"/>
<text transform="translate(105.55,453.30) rotate(-45)" font-size="6.15" text-anchor="end" fill="#1a1a1a">Unassigned</text>
<text transform="translate(18.90,402.50) rotate(-90) scale(0.655,1)" font-size="8.8" font-weight="bold" text-anchor="middle" fill="#111">% T cells</text>
<text x="80.20" y="352.70" font-size="7.1" text-anchor="middle" font-weight="normal" font-style="normal" fill="#1a1a1a" >TNFα</text>
<path d="M72.1,363.7H89.4" stroke="#111" stroke-width="0.95"/>
<text x="80.70" y="361.80" font-size="5.0" text-anchor="middle" font-weight="normal" font-style="italic" fill="#000" textLength="20.8" lengthAdjust="spacingAndGlyphs">p=0.015</text>
<path d="M96.5,368.1H113.8" stroke="#111" stroke-width="0.95"/>
<text x="104.50" y="366.10" font-size="5.0" text-anchor="middle" font-weight="normal" font-style="italic" fill="#000" textLength="19.8" lengthAdjust="spacingAndGlyphs">p=0.041</text>
<path d="M177.00,363.10V443.40H253.70" fill="none" stroke="#000" stroke-width="1.35" stroke-linejoin="miter"/>
<path d="M173.60,443.40H177.00" stroke="#000" stroke-width="1.05"/>
<text transform="translate(170.70,445.95) scale(1.05,1)" font-size="6.4" text-anchor="end" fill="#111">0</text>
<path d="M173.60,417.44H177.00" stroke="#000" stroke-width="1.05"/>
<text transform="translate(170.70,419.99) scale(1.05,1)" font-size="6.4" text-anchor="end" fill="#111">1</text>
<path d="M173.60,391.48H177.00" stroke="#000" stroke-width="1.05"/>
<text transform="translate(170.70,394.03) scale(1.05,1)" font-size="6.4" text-anchor="end" fill="#111">2</text>
<path d="M173.60,365.52H177.00" stroke="#000" stroke-width="1.05"/>
<text transform="translate(170.70,368.07) scale(1.05,1)" font-size="6.4" text-anchor="end" fill="#111">3</text>
<path d="M185.85,408.80V398.31M183.25,398.31H188.45" stroke="#000" stroke-width="1" fill="none"/>
<rect x="181.55" y="409.35" width="8.60" height="34.05" fill="#fff" stroke="#000" stroke-width="1.1"/>
<path d="M196.50,405.39V388.31M193.90,388.31H199.10" stroke="#000" stroke-width="1" fill="none"/>
<rect x="191.60" y="405.39" width="9.80" height="38.01" fill="#000"/>
<path d="M209.95,425.23V413.31M207.35,413.31H212.55" stroke="#000" stroke-width="1" fill="none"/>
<rect x="205.65" y="425.78" width="8.60" height="17.62" fill="#fff" stroke="#000" stroke-width="1.1"/>
<path d="M220.60,423.80V416.01M218.00,416.01H223.20" stroke="#000" stroke-width="1" fill="none"/>
<rect x="215.70" y="423.80" width="9.80" height="19.60" fill="#000"/>
<path d="M233.65,428.08V421.00M231.05,421.00H236.25" stroke="#000" stroke-width="1" fill="none"/>
<rect x="229.35" y="428.63" width="8.60" height="14.77" fill="#fff" stroke="#000" stroke-width="1.1"/>
<path d="M244.30,424.19V418.50M241.70,418.50H246.90" stroke="#000" stroke-width="1" fill="none"/>
<rect x="239.40" y="424.19" width="9.80" height="19.21" fill="#000"/>
<path d="M181.50,446.70H200.90" stroke="#111" stroke-width="1"/>
<text transform="translate(192.30,453.30) rotate(-45)" font-size="6.15" text-anchor="end" fill="#1a1a1a">Skin tropic</text>
<path d="M205.60,446.70H225.00" stroke="#111" stroke-width="1"/>
<text transform="translate(216.40,453.30) rotate(-45)" font-size="6.15" text-anchor="end" fill="#1a1a1a">Gut tropic</text>
<path d="M229.30,446.70H248.70" stroke="#111" stroke-width="1"/>
<text transform="translate(240.10,453.30) rotate(-45)" font-size="6.15" text-anchor="end" fill="#1a1a1a">Unassigned</text>
<text transform="translate(161.40,403.00) rotate(-90) scale(0.655,1)" font-size="8.8" font-weight="bold" text-anchor="middle" fill="#111">% T cells</text>
<text x="215.20" y="354.30" font-size="7.0" text-anchor="middle" font-weight="normal" font-style="normal" fill="#1a1a1a" textLength="16.9">IL-10</text>
<path d="M293.95,361.70V443.40H370.80" fill="none" stroke="#000" stroke-width="1.35" stroke-linejoin="miter"/>
<path d="M290.55,443.40H293.95" stroke="#000" stroke-width="1.05"/>
<text transform="translate(287.65,445.95) scale(1.05,1)" font-size="6.4" text-anchor="end" fill="#111">0</text>
<path d="M290.55,427.56H293.95" stroke="#000" stroke-width="1.05"/>
<text transform="translate(287.65,430.11) scale(1.05,1)" font-size="6.4" text-anchor="end" fill="#111">20</text>
<path d="M290.55,411.72H293.95" stroke="#000" stroke-width="1.05"/>
<text transform="translate(287.65,414.27) scale(1.05,1)" font-size="6.4" text-anchor="end" fill="#111">40</text>
<path d="M290.55,395.88H293.95" stroke="#000" stroke-width="1.05"/>
<text transform="translate(287.65,398.43) scale(1.05,1)" font-size="6.4" text-anchor="end" fill="#111">60</text>
<path d="M290.55,380.04H293.95" stroke="#000" stroke-width="1.05"/>
<text transform="translate(287.65,382.59) scale(1.05,1)" font-size="6.4" text-anchor="end" fill="#111">80</text>
<path d="M290.55,364.20H293.95" stroke="#000" stroke-width="1.05"/>
<text transform="translate(287.65,366.75) scale(1.05,1)" font-size="6.4" text-anchor="end" fill="#111">100</text>
<path d="M301.60,377.51V373.31M299.00,373.31H304.20" stroke="#000" stroke-width="1" fill="none"/>
<rect x="297.25" y="378.06" width="8.70" height="65.34" fill="#fff" stroke="#000" stroke-width="1.1"/>
<path d="M312.55,373.62V371.33M309.95,371.33H315.15" stroke="#000" stroke-width="1" fill="none"/>
<rect x="307.40" y="373.62" width="10.30" height="69.78" fill="#000"/>
<path d="M326.60,378.65V373.78M324.00,373.78H329.20" stroke="#000" stroke-width="1" fill="none"/>
<rect x="322.25" y="379.20" width="8.70" height="64.20" fill="#fff" stroke="#000" stroke-width="1.1"/>
<path d="M337.55,372.91V370.38M334.95,370.38H340.15" stroke="#000" stroke-width="1" fill="none"/>
<rect x="332.40" y="372.91" width="10.30" height="70.49" fill="#000"/>
<path d="M350.80,380.44V375.60M348.20,375.60H353.40" stroke="#000" stroke-width="1" fill="none"/>
<rect x="346.45" y="380.99" width="8.70" height="62.41" fill="#fff" stroke="#000" stroke-width="1.1"/>
<path d="M361.75,373.31V370.77M359.15,370.77H364.35" stroke="#000" stroke-width="1" fill="none"/>
<rect x="356.60" y="373.31" width="10.30" height="70.09" fill="#000"/>
<path d="M297.20,446.60H317.20" stroke="#111" stroke-width="1"/>
<text transform="translate(308.30,453.20) rotate(-45)" font-size="6.15" text-anchor="end" fill="#1a1a1a">Skin tropic</text>
<path d="M322.20,446.60H342.20" stroke="#111" stroke-width="1"/>
<text transform="translate(333.30,453.20) rotate(-45)" font-size="6.15" text-anchor="end" fill="#1a1a1a">Gut tropic</text>
<path d="M346.40,446.60H366.40" stroke="#111" stroke-width="1"/>
<text transform="translate(357.50,453.20) rotate(-45)" font-size="6.15" text-anchor="end" fill="#1a1a1a">Unassigned</text>
<text transform="translate(271.00,402.50) rotate(-90) scale(0.655,1)" font-size="8.8" font-weight="bold" text-anchor="middle" fill="#111">% T cells</text>
<text x="332.30" y="352.40" font-size="7.1" text-anchor="middle" font-weight="normal" font-style="normal" fill="#1a1a1a" >TNFα</text>
<path d="M437.40,361.70V443.40H514.20" fill="none" stroke="#000" stroke-width="1.35" stroke-linejoin="miter"/>
<path d="M434.00,443.40H437.40" stroke="#000" stroke-width="1.05"/>
<text transform="translate(431.10,445.95) scale(1.05,1)" font-size="6.4" text-anchor="end" fill="#111">0</text>
<path d="M434.00,423.60H437.40" stroke="#000" stroke-width="1.05"/>
<text transform="translate(431.10,426.15) scale(1.05,1)" font-size="6.4" text-anchor="end" fill="#111">1</text>
<path d="M434.00,403.80H437.40" stroke="#000" stroke-width="1.05"/>
<text transform="translate(431.10,406.35) scale(1.05,1)" font-size="6.4" text-anchor="end" fill="#111">2</text>
<path d="M434.00,384.00H437.40" stroke="#000" stroke-width="1.05"/>
<text transform="translate(431.10,386.55) scale(1.05,1)" font-size="6.4" text-anchor="end" fill="#111">3</text>
<path d="M434.00,364.20H437.40" stroke="#000" stroke-width="1.05"/>
<text transform="translate(431.10,366.75) scale(1.05,1)" font-size="6.4" text-anchor="end" fill="#111">4</text>
<path d="M445.95,416.19V407.90M443.35,407.90H448.55" stroke="#000" stroke-width="1" fill="none"/>
<rect x="441.65" y="416.74" width="8.60" height="26.66" fill="#fff" stroke="#000" stroke-width="1.1"/>
<path d="M456.75,386.30V368.99M454.15,368.99H459.35" stroke="#000" stroke-width="1" fill="none"/>
<rect x="451.70" y="386.30" width="10.10" height="57.10" fill="#000"/>
<path d="M470.35,435.40V431.01M467.75,431.01H472.95" stroke="#000" stroke-width="1" fill="none"/>
<rect x="466.05" y="435.95" width="8.60" height="7.45" fill="#fff" stroke="#000" stroke-width="1.1"/>
<path d="M481.15,436.71V433.50M478.55,433.50H483.75" stroke="#000" stroke-width="1" fill="none"/>
<rect x="476.10" y="436.71" width="10.10" height="6.69" fill="#000"/>
<path d="M494.35,432.91V427.50M491.75,427.50H496.95" stroke="#000" stroke-width="1" fill="none"/>
<rect x="490.05" y="433.46" width="8.60" height="9.94" fill="#fff" stroke="#000" stroke-width="1.1"/>
<path d="M505.15,430.00V423.30M502.55,423.30H507.75" stroke="#000" stroke-width="1" fill="none"/>
<rect x="500.10" y="430.00" width="10.10" height="13.40" fill="#000"/>
<path d="M441.60,446.80H461.30" stroke="#111" stroke-width="1"/>
<text transform="translate(452.55,453.40) rotate(-45)" font-size="6.15" text-anchor="end" fill="#1a1a1a">Skin tropic</text>
<path d="M466.00,446.80H485.70" stroke="#111" stroke-width="1"/>
<text transform="translate(476.95,453.40) rotate(-45)" font-size="6.15" text-anchor="end" fill="#1a1a1a">Gut tropic</text>
<path d="M490.00,446.80H509.70" stroke="#111" stroke-width="1"/>
<text transform="translate(500.95,453.40) rotate(-45)" font-size="6.15" text-anchor="end" fill="#1a1a1a">Unassigned</text>
<text transform="translate(422.30,402.50) rotate(-90) scale(0.655,1)" font-size="8.8" font-weight="bold" text-anchor="middle" fill="#111">% T cells</text>
<text x="475.60" y="352.90" font-size="7.0" text-anchor="middle" font-weight="normal" font-style="normal" fill="#1a1a1a" textLength="17">IL-10</text>
<defs>
<filter id="tex" x="-5%" y="-5%" width="110%" height="110%"><feTurbulence type="fractalNoise" baseFrequency="0.11" numOctaves="2" seed="3" result="d"/><feDisplacementMap in="SourceGraphic" in2="d" scale="5" xChannelSelector="R" yChannelSelector="G" result="sg"/><feTurbulence type="fractalNoise" baseFrequency="0.6" numOctaves="2" seed="7" result="n"/><feColorMatrix in="n" type="matrix" values="0 0 0 0 1  0 0 0 0 1  0 0 0 0 1  1.9 0 0 0 -0.62" result="w"/><feComposite in="w" in2="sg" operator="in" result="wm"/><feMerge><feMergeNode in="sg"/><feMergeNode in="wm"/></feMerge></filter>
<filter id="dsp" x="-5%" y="-20%" width="110%" height="140%"><feTurbulence type="fractalNoise" baseFrequency="0.11" numOctaves="2" seed="3" result="d"/><feDisplacementMap in="SourceGraphic" in2="d" scale="5" xChannelSelector="R" yChannelSelector="G"/></filter>
<filter id="bl"><feGaussianBlur stdDeviation="0.5"/></filter>
<clipPath id="hc"><rect x="392.8" y="524.4" width="112.4" height="64.8"/></clipPath>
</defs>
<g transform="translate(3,536) scale(0.20194)">
<path d="M174,202 C150,214 110,226 70,221 C38,215 18,196 27,176 C35,160 72,164 116,170" fill="none" stroke="#c4898f" stroke-width="7.4" stroke-linecap="round"/>
<path d="M174,202 C150,214 110,226 70,221 C38,215 18,196 27,176 C35,160 72,164 116,170" fill="none" stroke="#f0c6c8" stroke-width="4.6" stroke-linecap="round"/>
<path d="M170,200 C158,185 161,140 181,113 C195,90 225,55 249,45 C262,40 275,40 281,42 C300,46 350,58 384,67 L391,33 C396,23 410,23 419,42 C422,52 420,62 416,68 C434,70 458,86 482,116 C488,124 494,134 496,142 C496,148 492,152 486,154 C472,157 452,157 434,158 C420,160 405,166 398,172 C394,180 392,190 392,197 L414,199 L419,207 L385,207 L374,200 C360,192 335,190 308,192 L311,205 L304,215 L242,213 L237,205 C215,205 190,204 170,200 Z" fill="#a1b0c4" stroke="#5f6a7b" stroke-width="2" stroke-linejoin="round"/>
<path d="M492,151 L478,145 L442,148 L415,153 L395,168 L378,186 L371,196 L385,206 L418,206 L413,200 L393,197 L398,175 L420,162 L455,157 L486,155 Z" fill="#fbfbfd"/>
<path d="M237,197 L258,176 L268,182 L264,198 L306,190 L372,193 L376,200 L311,197 L310,205 L303,214 L243,212 L237,204 Z" fill="#fbfbfd"/>
<path d="M172,199 L200,195 L238,197 L240,204 L200,204 Z" fill="#fbfbfd"/>
<path d="M218,146 C250,140 272,162 264,197 C252,202 238,200 226,197 C206,188 202,164 218,146 Z" fill="#9dacc1"/>
<path d="M318,120 C335,128 345,160 336,190 C325,192 315,190 308,188 C300,165 302,135 318,120 Z" fill="#9eadc2"/>
<path d="M281,44 C300,47 350,59 382,68 C386,80 382,94 377,102 C352,106 318,104 292,96 C282,86 278,60 281,44 Z" fill="#e9b4ae"/>
<path d="M385,67 L391,33 C396,23 410,23 419,42 C422,52 420,62 416,70 C412,86 406,98 398,104 C390,98 385,84 385,67 Z" fill="#bcc6d4" stroke="#5f6a7b" stroke-width="1.8"/>
<path d="M395,52 C399,38 408,36 412,48 C415,62 412,80 404,92 C398,86 394,70 395,52 Z" fill="#e2b7ab"/>
<path d="M378,68 C378,82 382,96 390,106" fill="none" stroke="#bf574f" stroke-width="3"/>
<circle cx="444" cy="121" r="8" fill="#1a1d22"/>
<path d="M466,151 C474,152 484,151 492,147" fill="none" stroke="#55606e" stroke-width="1.8"/>
<path d="M250,208 L300,210 M392,203 L414,203" fill="none" stroke="#8a93a3" stroke-width="1.4"/>
</g>
<g transform="translate(135,538.8) scale(0.20194)">
<path d="M174,202 C150,214 110,226 70,221 C38,215 18,196 27,176 C35,160 72,164 116,170" fill="none" stroke="#c4898f" stroke-width="7.4" stroke-linecap="round"/>
<path d="M174,202 C150,214 110,226 70,221 C38,215 18,196 27,176 C35,160 72,164 116,170" fill="none" stroke="#f0c6c8" stroke-width="4.6" stroke-linecap="round"/>
<path d="M170,200 C158,185 161,140 181,113 C195,90 225,55 249,45 C262,40 275,40 281,42 C300,46 350,58 384,67 L391,33 C396,23 410,23 419,42 C422,52 420,62 416,68 C434,70 458,86 482,116 C488,124 494,134 496,142 C496,148 492,152 486,154 C472,157 452,157 434,158 C420,160 405,166 398,172 C394,180 392,190 392,197 L414,199 L419,207 L385,207 L374,200 C360,192 335,190 308,192 L311,205 L304,215 L242,213 L237,205 C215,205 190,204 170,200 Z" fill="#a1b0c4" stroke="#5f6a7b" stroke-width="2" stroke-linejoin="round"/>
<path d="M492,151 L478,145 L442,148 L415,153 L395,168 L378,186 L371,196 L385,206 L418,206 L413,200 L393,197 L398,175 L420,162 L455,157 L486,155 Z" fill="#fbfbfd"/>
<path d="M237,197 L258,176 L268,182 L264,198 L306,190 L372,193 L376,200 L311,197 L310,205 L303,214 L243,212 L237,204 Z" fill="#fbfbfd"/>
<path d="M172,199 L200,195 L238,197 L240,204 L200,204 Z" fill="#fbfbfd"/>
<path d="M218,146 C250,140 272,162 264,197 C252,202 238,200 226,197 C206,188 202,164 218,146 Z" fill="#9dacc1"/>
<path d="M318,120 C335,128 345,160 336,190 C325,192 315,190 308,188 C300,165 302,135 318,120 Z" fill="#9eadc2"/>
<path d="M281,44 C300,47 350,59 382,68 C386,80 382,94 377,102 C352,106 318,104 292,96 C282,86 278,60 281,44 Z" fill="#e9b4ae"/>
<path d="M385,67 L391,33 C396,23 410,23 419,42 C422,52 420,62 416,70 C412,86 406,98 398,104 C390,98 385,84 385,67 Z" fill="#bcc6d4" stroke="#5f6a7b" stroke-width="1.8"/>
<path d="M395,52 C399,38 408,36 412,48 C415,62 412,80 404,92 C398,86 394,70 395,52 Z" fill="#e2b7ab"/>
<path d="M378,68 C378,82 382,96 390,106" fill="none" stroke="#bf574f" stroke-width="3"/>
<circle cx="444" cy="121" r="8" fill="#1a1d22"/>
<path d="M466,151 C474,152 484,151 492,147" fill="none" stroke="#55606e" stroke-width="1.8"/>
<path d="M250,208 L300,210 M392,203 L414,203" fill="none" stroke="#8a93a3" stroke-width="1.4"/>
</g>
<g transform="translate(282.2,538.8) scale(0.20194)">
<path d="M174,202 C150,214 110,226 70,221 C38,215 18,196 27,176 C35,160 72,164 116,170" fill="none" stroke="#c4898f" stroke-width="7.4" stroke-linecap="round"/>
<path d="M174,202 C150,214 110,226 70,221 C38,215 18,196 27,176 C35,160 72,164 116,170" fill="none" stroke="#f0c6c8" stroke-width="4.6" stroke-linecap="round"/>
<path d="M170,200 C158,185 161,140 181,113 C195,90 225,55 249,45 C262,40 275,40 281,42 C300,46 350,58 384,67 L391,33 C396,23 410,23 419,42 C422,52 420,62 416,68 C434,70 458,86 482,116 C488,124 494,134 496,142 C496,148 492,152 486,154 C472,157 452,157 434,158 C420,160 405,166 398,172 C394,180 392,190 392,197 L414,199 L419,207 L385,207 L374,200 C360,192 335,190 308,192 L311,205 L304,215 L242,213 L237,205 C215,205 190,204 170,200 Z" fill="#a1b0c4" stroke="#5f6a7b" stroke-width="2" stroke-linejoin="round"/>
<path d="M492,151 L478,145 L442,148 L415,153 L395,168 L378,186 L371,196 L385,206 L418,206 L413,200 L393,197 L398,175 L420,162 L455,157 L486,155 Z" fill="#fbfbfd"/>
<path d="M237,197 L258,176 L268,182 L264,198 L306,190 L372,193 L376,200 L311,197 L310,205 L303,214 L243,212 L237,204 Z" fill="#fbfbfd"/>
<path d="M172,199 L200,195 L238,197 L240,204 L200,204 Z" fill="#fbfbfd"/>
<path d="M218,146 C250,140 272,162 264,197 C252,202 238,200 226,197 C206,188 202,164 218,146 Z" fill="#9dacc1"/>
<path d="M318,120 C335,128 345,160 336,190 C325,192 315,190 308,188 C300,165 302,135 318,120 Z" fill="#9eadc2"/>
<path d="M281,44 C300,47 350,59 382,68 C386,80 382,94 377,102 C352,106 318,104 292,96 C282,86 278,60 281,44 Z" fill="#e9b4ae"/>
<path d="M385,67 L391,33 C396,23 410,23 419,42 C422,52 420,62 416,70 C412,86 406,98 398,104 C390,98 385,84 385,67 Z" fill="#bcc6d4" stroke="#5f6a7b" stroke-width="1.8"/>
<path d="M395,52 C399,38 408,36 412,48 C415,62 412,80 404,92 C398,86 394,70 395,52 Z" fill="#e2b7ab"/>
<path d="M378,68 C378,82 382,96 390,106" fill="none" stroke="#bf574f" stroke-width="3"/>
<circle cx="444" cy="121" r="8" fill="#1a1d22"/>
<path d="M466,151 C474,152 484,151 492,147" fill="none" stroke="#55606e" stroke-width="1.8"/>
<path d="M250,208 L300,210 M392,203 L414,203" fill="none" stroke="#8a93a3" stroke-width="1.4"/>
</g>
<text x="74.9" y="514.8" font-size="7.25" text-anchor="middle" fill="#1a1a1a" >human foreskin grafted to</text>
<text x="74.8" y="523.9" font-size="7.25" text-anchor="middle" fill="#1a1a1a" >NSG mouse</text>
<path d="M74.5,528.6V543" stroke="#000" stroke-width="1.3"/><path d="M71.2,541.0L74.5,548.0L77.8,541.0Z" fill="#000"/>
<path d="M106.2,562H137" stroke="#000" stroke-width="1.3"/><path d="M135.6,558.6L143.8,562L135.6,565.4Z" fill="#000"/>
<text x="125.6" y="571.3" font-size="7.2" text-anchor="middle" fill="#1a1a1a" >10 days</text>
<text x="151.0" y="527.0" font-size="5.8" letter-spacing="0.08" fill="#1a1a1a">sorted <tspan font-size="6.8">T</tspan><tspan font-size="4.1" dy="1.5">CM</tspan><tspan dy="-1.5"> or </tspan><tspan font-size="6.8">T</tspan><tspan font-size="4.1" dy="1.5">EM</tspan></text>
<text x="174.2" y="535.9" font-size="7.0" text-anchor="middle" fill="#1a1a1a" >IV injected</text>
<g transform="translate(149.9,540.4) rotate(-30) scale(1.04)" stroke="#2d2d48" stroke-linejoin="round"><path d="M-3.8,0H3.8" stroke-width="1.4"/><path d="M0,0V4" stroke-width="1.6"/><path d="M-3.6,3.6H3.6" stroke-width="1.4"/><rect x="-2.6" y="3.6" width="5.2" height="12.2" fill="#d9d7ee" stroke-width="0.9"/><path d="M-2.8,16.2H2.8" stroke-width="1.6"/><path d="M-1.1,16.6L-0.6,19.4H0.6L1.1,16.6Z" fill="#2d2d48" stroke-width="0.6"/><path d="M0,19.4V24.2" stroke-width="0.6"/></g>
<path d="M237.2,564.6H310" stroke="#000" stroke-width="1.3"/><path d="M308.4,561.2L316.6,564.6L308.4,568.0Z" fill="#000"/>
<text x="276.0" y="549.8" font-size="7.35" text-anchor="middle" fill="#1a1a1a" >T cell migration into skin</text>
<text x="275.9" y="559.3" font-size="7.35" text-anchor="middle" fill="#1a1a1a" >GvHD-like dermatitis</text>
<text x="269.0" y="574.4" font-size="7.35" text-anchor="middle" fill="#1a1a1a" >3 weeks</text>
<text x="351.9" y="536.8" font-size="7.2" text-anchor="middle" fill="#1a1a1a" >examine skin</text>
<text x="449.0" y="506.0" font-size="8.2" text-anchor="middle" fill="#1a1a1a" >Saline injected</text>
<text x="418.2" y="519.9" font-size="6.2" text-anchor="middle" fill="#1a1a1a" >mouse skin</text>
<text x="480.5" y="519.9" font-size="6.2" text-anchor="middle" fill="#1a1a1a" >human skin</text>
<path d="M394,523.4H443.4M455.6,523.4H505" stroke="#9a9a9a" stroke-width="0.6"/>
<g clip-path="url(#hc)">
<rect x="392.8" y="524.4" width="112.4" height="64.8" fill="#fdfbfd"/>
<g filter="url(#tex)">
<path d="M392.8,541 L404,543 L418,548 L432,557 L441,563 L452,566 L459,565 L466,572 L505,573 L505,589 L392.8,589 Z" fill="#f3e2ef"/>
<path d="M452.3,556 L456.9,554 L460.4,548.5 L466.2,541.6 L475.4,534.8 L486.9,530.2 L498.5,527.9 L505,527.2 L505,574 L466,572.5 L456,566 Z" fill="#efe9f3"/>
<path d="M459,569.5 C470,572 490,572.5 505,574 L505,582.5 C490,581 470,579 458,575.5 Z" fill="#f0c4dc"/>
<path d="M392.8,577 C410,575.5 430,578 459,577 L459,586 C440,586.5 410,585 392.8,585.5 Z" fill="#f3cfe2"/>
<path d="M392.8,571.5 C410,570 430,573 448,570.5 L460,567.5 L460,571 C440,576.5 410,574 392.8,575.5 Z" fill="#fdfbfd"/>
<path d="M392.8,528.8 L403.8,529.7 L413.1,531.1 L424.6,532.7 L436.2,537.3 L443.1,544.2 L448.8,551.2 L452.3,554.6 L456.9,553.5 L459.5,558 L459.2,565 L452.3,567.6 L440.8,566.6 L431.5,562.0 L417.7,555.0 L403.8,549.2 L392.8,546.8 Z" fill="#d9a0c7"/>
</g>
<path d="M392.8,528.8 L403.8,529.7 L413.1,531.1 L424.6,532.7 L436.2,537.3 L443.1,544.2 L448.8,551.2 L452.3,554.6" fill="none" stroke="#bd74ab" stroke-width="0.9" filter="url(#dsp)"/>
<path d="M452.3,555.2 L456.9,553.5 L460.4,547.7 L466.2,540.8 L475.4,533.8 L486.9,529.2 L498.5,526.9 L505,526.2" fill="none" stroke="#cc80b7" stroke-width="1.9" filter="url(#dsp)"/>
<path d="M452.6,549 L454,556 L455.2,550 M457.4,548 L458.2,555" fill="none" stroke="#7f3f7e" stroke-width="0.9"/>
<circle cx="401.5" cy="555.8" r="1.0" fill="#6b3f78"/>
<circle cx="409.6" cy="555.6" r="1.1" fill="#6b3f78"/>
<circle cx="416.5" cy="560.5" r="1.2" fill="#6b3f78"/>
<circle cx="413.0" cy="565.0" r="1.0" fill="#6b3f78"/>
<circle cx="421.2" cy="568.4" r="1.3" fill="#6b3f78"/>
<circle cx="396.2" cy="542.5" r="0.7" fill="#6b3f78"/>
<circle cx="405.5" cy="563.5" r="0.7" fill="#6b3f78"/>
</g>
<rect x="499.6" y="587.2" width="4.6" height="1.4" fill="#000"/>
<rect x="0.5" y="0.5" width="519" height="592" fill="none" stroke="#000" stroke-width="1"/>
<rect x="0" y="591.4" width="520" height="1.6" fill="#111"/>
</svg></body></html>
